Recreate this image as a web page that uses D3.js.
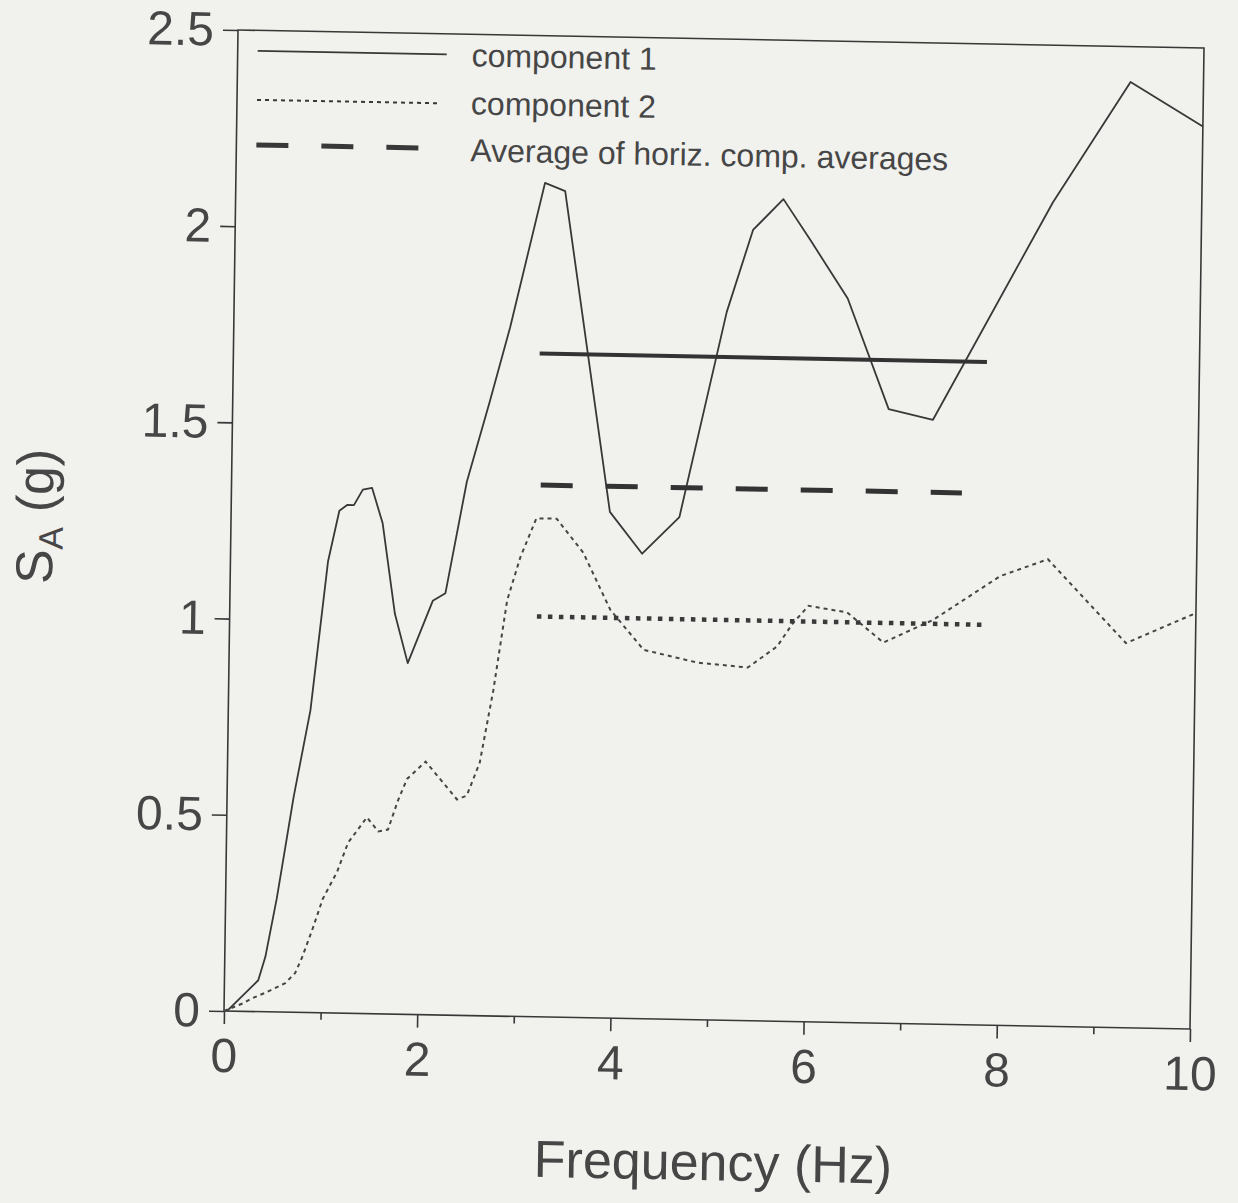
<!DOCTYPE html>
<html>
<head>
<meta charset="utf-8">
<script src="https://cdn.jsdelivr.net/npm/d3@7"></script>
<style>
  body { margin: 0; background: #f1f1ee; }
  svg { display: block; }
  text { font-family: 'Liberation Sans', Arial, sans-serif; fill: #464646; }
</style>
</head>
<body>
<svg id="chart" width="1238" height="1203"></svg>
<script>
// component 1 (solid) and component 2 (dotted) spectra
const freq1 = [0.03, 0.35, 0.42, 0.53, 0.61, 0.69, 0.85, 1.01, 1.12, 1.20, 1.27, 1.36, 1.455, 1.57, 1.71, 1.85,
  2.10, 2.23, 2.435, 2.66, 2.86, 3.20, 3.41, 3.92, 4.26, 4.64, 5.10, 5.36, 5.67, 5.96, 6.35, 6.79, 7.25, 8.46, 9.245, 10]
const sa1 = [0, 0.08, 0.14, 0.29, 0.42, 0.55, 0.77, 1.15, 1.28, 1.295, 1.295, 1.335, 1.34, 1.25, 1.02, 0.895,
  1.055, 1.075, 1.36, 1.565, 1.755, 2.125, 2.105, 1.29, 1.185, 1.28, 1.805, 2.015, 2.095, 1.99, 1.845, 1.565, 1.54, 2.10, 2.41, 2.30]

const freq2 = [0, 0.19, 0.30, 0.42, 0.63, 0.73, 0.80, 0.90, 1.005, 1.15, 1.26, 1.45, 1.57, 1.67, 1.77, 1.86,
  2.05, 2.38, 2.48, 2.61, 2.74, 2.87, 3.0, 3.16, 3.37, 3.65, 3.94, 4.29, 4.85, 5.37, 5.67, 5.83, 5.99, 6.39,
  6.77, 7.28, 7.97, 8.46, 9.28, 10]
const sa2 = [0, 0.02, 0.035, 0.048, 0.074, 0.10, 0.14, 0.21, 0.29, 0.36, 0.435, 0.50, 0.465, 0.47, 0.545, 0.60,
  0.645, 0.55, 0.56, 0.645, 0.83, 1.06, 1.17, 1.27, 1.27, 1.185, 1.04, 0.94, 0.91, 0.90, 0.955, 1.015, 1.06, 1.045,
  0.97, 1.03, 1.145, 1.19, 0.98, 1.06]

// horizontal averages: comp 1, comp 2, average of both
const avgValues = [1.69, 1.02, 1.355]
const avgFrom = [3.17, 3.18, 3.20]
const avgTo = [7.80, 7.79, 7.56]

const legendLabels = ['component 1', 'component 2', 'Average of horiz. comp. averages']
const xTicks = [0, 2, 4, 6, 8, 10]
const xMinorTicks = [1, 3, 5, 7, 9]
const yTicks = [0, 0.5, 1, 1.5, 2, 2.5]

const ink = '#383838'
const margin = { left: 224, top: 30 }
const width = 966
const height = 981

const svg = d3.select('#chart')

// the scanned page is slightly skewed, so the whole figure is too
const page =
  svg.append('g')
    .attr('transform', 'matrix(1,0.01863,-0.01427,1,14.43,-4.17)')

const x = d3.scaleLinear().domain([0, 10]).range([margin.left, margin.left + width])
const y = d3.scaleLinear().domain([0, 2.5]).range([margin.top + height, margin.top])

const xAxis =
  d3.axisBottom(x)
    .tickValues(xTicks)
    .tickSize(13)
    .tickSizeOuter(0)
    .tickPadding(14)
    .tickFormat(d => d)
const xMinor =
  d3.axisBottom(x)
    .tickValues(xMinorTicks)
    .tickSize(7)
    .tickSizeOuter(0)
    .tickFormat('')
const yAxis =
  d3.axisLeft(y)
    .tickValues(yTicks)
    .tickSize(15)
    .tickSizeOuter(0)
    .tickPadding(9)
    .tickFormat(d => d)

function styleAxis (g) {
  g.select('.domain').remove()
  g.selectAll('.tick line').attr('stroke', ink).attr('stroke-width', 1.6)
  g.selectAll('.tick text').attr('font-size', 48).attr('fill', '#464646')
}

page.append('g')
  .attr('transform', `translate(0, ${y(0)})`)
  .call(xAxis)
  .call(styleAxis)
page.append('g')
  .attr('transform', `translate(0, ${y(0)})`)
  .call(xMinor)
  .call(styleAxis)
page.append('g')
  .attr('transform', `translate(${x(0)}, 0)`)
  .call(yAxis)
  .call(styleAxis)

// frame
page.append('rect')
  .attr('x', x(0))
  .attr('y', y(2.5))
  .attr('width', x(10) - x(0))
  .attr('height', y(0) - y(2.5))
  .attr('fill', 'none')
  .attr('stroke', ink)
  .attr('stroke-width', 1.6)

const line =
  d3.line()
    .x(d => x(d[0]))
    .y(d => y(d[1]))

page.append('path')
  .datum(d3.zip(freq1, sa1))
  .attr('fill', 'none')
  .attr('stroke', ink)
  .attr('stroke-width', 1.8)
  .attr('stroke-linejoin', 'round')
  .attr('d', line)

page.append('path')
  .datum(d3.zip(freq2, sa2))
  .attr('fill', 'none')
  .attr('stroke', '#454545')
  .attr('stroke-width', 2)
  .attr('stroke-dasharray', '4,4')
  .attr('d', line)

const avgStyles = [
  { width: 4, dash: null, color: '#333' },
  { width: 4.5, dash: '4.5,6.5', color: '#3a3a3a' },
  { width: 5, dash: '32,33', color: '#333' }
]

page.selectAll('.avg')
  .data(avgValues)
  .enter()
  .append('line')
    .attr('class', 'avg')
    .attr('x1', (d, i) => x(avgFrom[i]))
    .attr('x2', (d, i) => x(avgTo[i]))
    .attr('y1', d => y(d))
    .attr('y2', d => y(d))
    .attr('stroke', (d, i) => avgStyles[i].color)
    .attr('stroke-width', (d, i) => avgStyles[i].width)
    .attr('stroke-dasharray', (d, i) => avgStyles[i].dash)

// legend
const legendRows = [
  { y: 50.5, x2: 433, width: 1.8, dash: null },
  { y: 99.5, x2: 428, width: 2, dash: '4,4' },
  { y: 144.5, x2: 406, width: 5, dash: '32,33' }
]
const legend =
  page.selectAll('.legend')
    .data(legendLabels)
    .enter()
    .append('g')
      .attr('class', 'legend')

legend.append('line')
  .attr('x1', 244)
  .attr('x2', (d, i) => legendRows[i].x2)
  .attr('y1', (d, i) => legendRows[i].y)
  .attr('y2', (d, i) => legendRows[i].y)
  .attr('stroke', ink)
  .attr('stroke-width', (d, i) => legendRows[i].width)
  .attr('stroke-dasharray', (d, i) => legendRows[i].dash)

legend.append('text')
  .attr('x', 458)
  .attr('y', (d, i) => [62, 110, 157][i])
  .attr('font-size', 32)
  .text(d => d)

// axis titles
page.append('text')
  .attr('x', 715)
  .attr('y', 1171)
  .attr('text-anchor', 'middle')
  .attr('font-size', 52)
  .text('Frequency (Hz)')

const yTitle =
  page.append('text')
    .attr('transform', 'translate(46, 520) rotate(-90)')
    .attr('text-anchor', 'middle')
    .attr('font-size', 52)
yTitle.append('tspan').text('S')
yTitle.append('tspan').attr('font-size', 34).attr('dy', 10).text('A')
yTitle.append('tspan').attr('dy', -10).text(' (g)')
</script>
</body>
</html>
